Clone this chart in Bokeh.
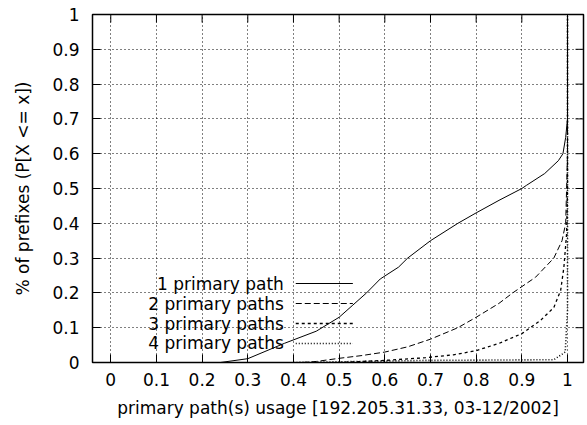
import math
from bokeh.plotting import figure
from bokeh.models import Range1d, FixedTicker
from bokeh.core.properties import value
from bokeh.embed import file_html
from bokeh.resources import INLINE

# ---------------- data ----------------
tick_values = [0, 0.1, 0.2, 0.3, 0.4, 0.5, 0.6, 0.7, 0.8, 0.9, 1]
tick_labels = ["0", "0.1", "0.2", "0.3", "0.4", "0.5", "0.6", "0.7", "0.8", "0.9", "1"]

series_names = ["1 primary path", "2 primary paths", "3 primary paths", "4 primary paths"]

p1_x = [0.24, 0.30, 0.38, 0.45, 0.50, 0.53, 0.56, 0.59, 0.63, 0.65, 0.70, 0.76,
        0.80, 0.85, 0.90, 0.91, 0.95, 0.98, 0.99, 0.996, 1.0, 1.0]
p1_y = [0.0, 0.011, 0.055, 0.09, 0.13, 0.165, 0.20, 0.24, 0.274, 0.30, 0.35, 0.40,
        0.43, 0.466, 0.50, 0.509, 0.543, 0.58, 0.60, 0.647, 0.70, 1.0]

p2_x = [0.42, 0.45, 0.50, 0.55, 0.60, 0.65, 0.70, 0.76, 0.80, 0.85, 0.88, 0.93,
        0.97, 0.988, 0.996, 1.0, 1.0]
p2_y = [0.0, 0.003, 0.012, 0.02, 0.03, 0.045, 0.067, 0.10, 0.13, 0.17, 0.20, 0.245,
        0.30, 0.35, 0.40, 0.60, 1.0]

p3_x = [0.50, 0.55, 0.60, 0.69, 0.75, 0.80, 0.85, 0.90, 0.94, 0.97, 0.985, 0.992,
        0.998, 1.0, 1.0]
p3_y = [0.0, 0.003, 0.006, 0.014, 0.022, 0.034, 0.055, 0.083, 0.12, 0.158, 0.207,
        0.273, 0.37, 0.50, 1.0]

p4_x = [0.40, 0.50, 0.60, 0.685, 0.97, 0.995, 1.0, 1.0]
p4_y = [0.0, 0.002, 0.004, 0.006, 0.008, 0.03, 0.15, 1.0]

# ---------------- figure ----------------
FONT = "DejaVu Sans"
FS = "17px"
X_START, X_END = -0.04, 1.035
Y_START, Y_END = 0, 1

p = figure(width=587, height=425, output_backend="svg", toolbar_location=None,
           x_range=Range1d(X_START, X_END), y_range=Range1d(Y_START, Y_END),
           min_border_left=92, min_border_right=4, min_border_top=14,
           min_border_bottom=63)
p.background_fill_color = "white"
p.border_fill_color = "white"
p.outline_line_color = "black"
p.outline_line_width = 1.5
p.outline_line_alpha = 1.0

overrides = {v: s for v, s in zip(tick_values, tick_labels)}

for ax in (p.xaxis[0], p.yaxis[0]):
    ax.ticker = FixedTicker(ticks=tick_values)
    ax.major_label_overrides = overrides
    ax.major_tick_in = 8
    ax.major_tick_out = 0
    ax.minor_tick_in = 0
    ax.minor_tick_out = 0
    ax.major_tick_line_color = "black"
    ax.axis_line_color = None
    ax.major_label_text_font = FONT
    ax.major_label_text_font_size = FS
    ax.major_label_text_color = "black"
    ax.axis_label_text_font = FONT
    ax.axis_label_text_font_size = FS
    ax.axis_label_text_font_style = "normal"
    ax.axis_label_text_color = "black"

p.xaxis[0].axis_label = "primary path(s) usage [192.205.31.33, 03-12/2002]"
p.xaxis[0].major_label_standoff = 10
p.xaxis[0].axis_label_standoff = 9
p.yaxis[0].axis_label = "% of prefixes (P[X <= x])"
p.yaxis[0].major_label_standoff = 13
p.yaxis[0].axis_label_standoff = 16

for g in (p.xgrid[0], p.ygrid[0]):
    g.ticker = FixedTicker(ticks=tick_values)
    g.grid_line_color = "black"
    g.grid_line_dash = "1 3"
    g.grid_line_width = 1
    g.grid_line_alpha = 1.0

# mirrored inward ticks on top and right edges (gnuplot style)
p.ray(x=tick_values, y=[Y_END] * len(tick_values), length=8, angle=-math.pi / 2,
      length_units="screen", line_color="black", line_width=1)
p.ray(x=[X_END] * len(tick_values), y=tick_values, length=8, angle=math.pi,
      length_units="screen", line_color="black", line_width=1)

# ---------------- curves ----------------
styles = [
    dict(line_dash="solid", line_width=1.0),
    dict(line_dash="6 3", line_width=1.0),
    dict(line_dash="3 3", line_width=1.3),
    dict(line_dash="1 2", line_width=1.6),
]
xs = [p1_x, p2_x, p3_x, p4_x]
ys = [p1_y, p2_y, p3_y, p4_y]
for x, y, st in zip(xs, ys, styles):
    p.line(x, y, line_color="black", **st)

# ---------------- key (gnuplot style: text then sample) ----------------
key_text_x = 0.379
key_line_x0 = 0.405
key_line_x1 = 0.530
key_rows = [0.227, 0.1695, 0.112, 0.0546]
for name, yrow, st in zip(series_names, key_rows, styles):
    p.text(x=[key_text_x], y=[yrow], text=[name], text_align="right",
           text_baseline="middle", text_font=value(FONT), text_font_size=FS,
           text_color="black")
    p.line([key_line_x0, key_line_x1], [yrow, yrow], line_color="black", **st)

open("out.html", "w").write(file_html(p, INLINE))
